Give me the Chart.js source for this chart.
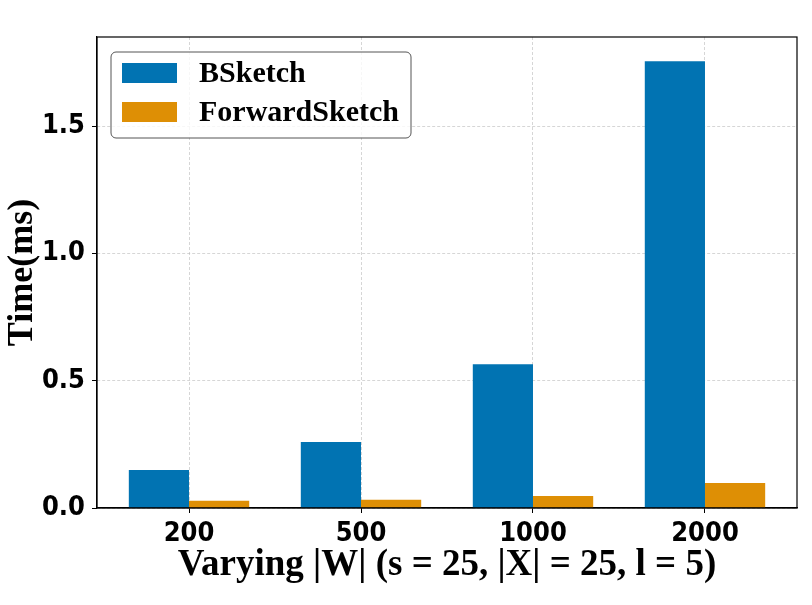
<!DOCTYPE html>
<html>
<head>
<meta charset="utf-8">
<script src="https://cdn.jsdelivr.net/npm/chart.js@4.4.0/dist/chart.umd.min.js"></script>
<style>
    html, body { margin: 0; padding: 0; background: #fff; }
    #wrap { width: 812px; height: 605px; }
</style>
</head>
<body>
<div id="wrap"><canvas id="chart"></canvas></div>
<script>
const categories = ['200', '500', '1000', '2000'];
const bsketch = [0.149, 0.259, 0.565, 1.755];
const forwardSketch = [0.028, 0.032, 0.047, 0.098];
const yTicks = [0, 0.5, 1.0, 1.5];

const serif = '"Liberation Serif", "DejaVu Serif", serif';
const sans = '"DejaVu Sans Condensed", "DejaVu Sans", sans-serif';
const gridColor = 'rgba(176, 176, 176, 0.65)';

function points(values) {
    return values.map((v, i) => ({ x: i, y: v }));
}

// matplotlib style frame around the plot area
const framePlugin = {
    id: 'frame',
    afterDraw(chart) {
        const { ctx, chartArea: a } = chart;
        ctx.save();
        ctx.strokeStyle = '#000';
        ctx.lineWidth = 1.2;
        ctx.setLineDash([]);
        ctx.strokeRect(a.left, a.top, a.right - a.left, a.bottom - a.top);
        ctx.restore();
    }
};

// legend box in the upper left corner of the axes
const legendPlugin = {
    id: 'boxLegend',
    afterDraw(chart) {
        const { ctx } = chart;
        const x = 111, y = 52, w = 300, h = 86;
        ctx.save();
        ctx.setLineDash([]);
        ctx.beginPath();
        ctx.roundRect(x, y, w, h, 5);
        ctx.fillStyle = 'rgba(255,255,255,0.8)';
        ctx.fill();
        ctx.strokeStyle = '#555';
        ctx.lineWidth = 1;
        ctx.stroke();
        ctx.font = 'bold 30px ' + serif;
        ctx.textBaseline = 'middle';
        chart.data.datasets.forEach((ds, i) => {
            const cy = 73 + i * 39;
            ctx.fillStyle = ds.backgroundColor;
            ctx.fillRect(122, cy - 10, 55, 20);
            ctx.fillStyle = '#000';
            ctx.fillText(ds.label, 199, cy + 1);
        });
        ctx.restore();
    }
};

const data = {
    datasets: [{
        label: 'BSketch',
        data: points(bsketch),
        backgroundColor: '#0173B2',
        categoryPercentage: 0.7,
        barPercentage: 1.0
    }, {
        label: 'ForwardSketch',
        data: points(forwardSketch),
        backgroundColor: '#DE8F05',
        categoryPercentage: 0.7,
        barPercentage: 1.0
    }]
};

const config = {
    type: 'bar',
    data: data,
    plugins: [framePlugin, legendPlugin],
    options: {
        responsive: true,
        maintainAspectRatio: false,
        animation: false,
        layout: { padding: { top: 37, right: 15, left: 0, bottom: 0 } },
        plugins: {
            legend: { display: false },
            tooltip: { enabled: false }
        },
        scales: {
            x: {
                type: 'linear',
                offset: false,
                min: -0.535,
                max: 3.535,
                afterBuildTicks: scale => {
                    scale.ticks = categories.map((c, i) => ({ value: i }));
                },
                afterFit: scale => { scale.height = 97; },
                ticks: {
                    callback: v => categories[v],
                    color: '#000',
                    padding: 5,
                    maxRotation: 0,
                    font: { family: sans, size: 27, weight: 'bold' }
                },
                grid: {
                    offset: false,
                    color: gridColor,
                    lineWidth: 0.8,
                    tickColor: '#000',
                    tickLength: 5,
                    tickWidth: 1,
                    tickBorderDash: []
                },
                // in Chart.js v4 border.dash also dashes the grid lines
                border: { display: true, color: '#000', width: 1.2, dash: [3, 2] },
                title: {
                    display: true,
                    text: 'Varying |W| (s = 25, |X| = 25, l = 5)',
                    color: '#000',
                    padding: { top: 0, bottom: 17 },
                    font: { family: serif, size: 37, weight: 'bold' }
                }
            },
            y: {
                min: 0,
                max: 1.85,
                afterBuildTicks: scale => {
                    scale.ticks = yTicks.map(v => ({ value: v }));
                },
                afterFit: scale => { scale.width = 97; },
                ticks: {
                    callback: v => v.toFixed(1),
                    color: '#000',
                    padding: 7,
                    font: { family: sans, size: 27, weight: 'bold' }
                },
                grid: {
                    color: gridColor,
                    lineWidth: 0.8,
                    tickColor: '#000',
                    tickLength: 5,
                    tickWidth: 1,
                    tickBorderDash: []
                },
                border: { display: true, color: '#000', width: 1.2, dash: [3, 2] },
                title: {
                    display: true,
                    text: 'Time(ms)',
                    color: '#000',
                    padding: { top: 1, bottom: 0 },
                    font: { family: serif, size: 36, weight: 'bold' }
                }
            }
        }
    }
};

let ctx = document.getElementById('chart').getContext('2d');
new Chart(ctx, config);
</script>
</body>
</html>
